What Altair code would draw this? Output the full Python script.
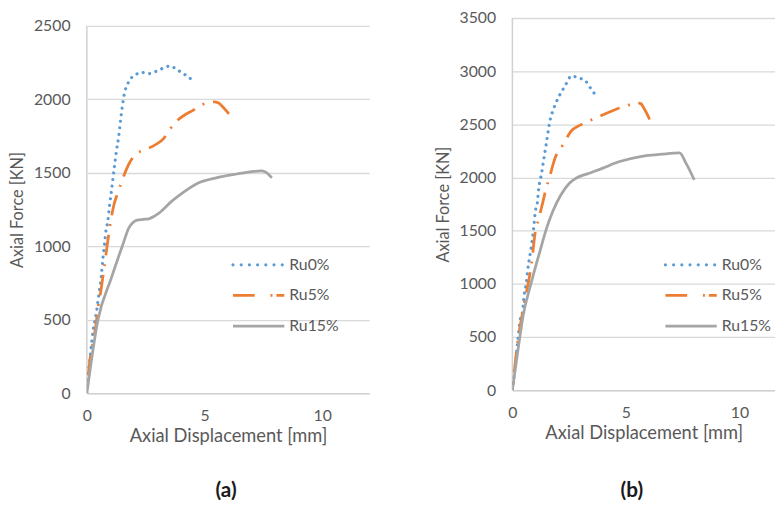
import altair as alt
import pandas as pd

series = ["Ru0%", "Ru5%", "Ru15%"]
colors = ["#5B9BD5", "#ED7D31", "#A5A5A5"]

# Panel (a)
a_ru0_x = [0, 0.05, 0.15, 0.26, 0.4, 0.5, 0.61, 0.68, 0.75, 0.82, 0.89, 0.96, 1.05, 1.17, 1.26, 1.35, 1.43, 1.51, 1.61, 1.72, 1.83, 2.01, 2.31, 2.63, 2.95, 3.25, 3.54, 3.83, 4.13, 4.4]
a_ru0_y = [0, 107, 264, 421, 544, 660, 791, 914, 1015, 1116, 1171, 1272, 1384, 1541, 1653, 1743, 1855, 1956, 2050, 2100, 2135, 2160, 2184, 2175, 2191, 2213, 2227, 2202, 2173, 2141]
a_ru5_x = [0, 0.125, 0.25, 0.4, 0.47, 0.61, 0.68, 0.75, 0.86, 0.93, 0.99, 1.17, 1.32, 1.47, 1.82, 2.07, 2.49, 2.9, 3.25, 3.51, 3.81, 4.54, 4.94, 5.4, 5.6, 5.8, 6.07]
a_ru5_y = [0, 220, 340, 480, 578, 712, 791, 869, 1003, 1082, 1149, 1295, 1366, 1436, 1570, 1626, 1658, 1690, 1731, 1792, 1850, 1929, 1967, 1983, 1975, 1945, 1895]
a_ru15_x = [0, 0.47, 1.03, 1.51, 1.79, 1.95, 2.14, 2.4, 2.63, 3.04, 3.6, 4.01, 4.71, 5.54, 6.38, 7.0, 7.4, 7.6, 7.86]
a_ru15_y = [0, 499, 780, 1003, 1127, 1160, 1178, 1183, 1187, 1223, 1306, 1357, 1429, 1467, 1492, 1508, 1514, 1505, 1466]

# Panel (b)
b_ru0_x = [0, 0.12, 0.22, 0.33, 0.45, 0.51, 0.62, 0.7, 0.77, 0.86, 0.94, 1.01, 1.1, 1.16, 1.23, 1.29, 1.35, 1.4, 1.51, 1.61, 1.68, 1.78, 1.9, 2.04, 2.22, 2.39, 2.59, 2.91, 3.23, 3.41, 3.62]
b_ru0_y = [0, 213, 430, 647, 740, 879, 1018, 1173, 1265, 1390, 1529, 1683, 1761, 1900, 1978, 2045, 2126, 2194, 2341, 2481, 2558, 2626, 2694, 2759, 2827, 2889, 2955, 2937, 2906, 2850, 2788]
b_ru5_x = [0, 0.22, 0.51, 0.84, 1.01, 1.13, 1.35, 1.46, 1.61, 1.93, 2.1, 2.33, 2.6, 2.94, 3.41, 3.81, 4.68, 5.14, 5.45, 5.65, 5.85, 6.09]
b_ru5_y = [0, 430, 801, 1188, 1488, 1590, 1776, 1878, 1984, 2210, 2262, 2349, 2440, 2488, 2535, 2572, 2652, 2683, 2705, 2695, 2630, 2525]
b_ru15_x = [0, 0.26, 0.48, 0.84, 1.2, 1.49, 1.78, 2.14, 2.51, 2.8, 3.38, 3.96, 4.68, 5.7, 6.57, 7.36, 7.65, 8.01]
b_ru15_y = [0, 400, 709, 1018, 1297, 1513, 1683, 1838, 1947, 1993, 2040, 2086, 2148, 2200, 2219, 2231, 2133, 1978]

x_ticks = [0, 5, 10]
FONT = "Lato"
TXT = "#595959"
AXIS_COLOR = "#D0D0D0"

line_styles = [
    dict(strokeWidth=3.2, strokeDash=[0.01, 6.6], strokeCap="round"),
    dict(strokeWidth=2.8, strokeDash=[21, 9, 2, 9], strokeDashOffset=23, strokeCap="butt"),
    dict(strokeWidth=2.8, strokeCap="butt"),
]
legend_styles = [
    dict(strokeWidth=3.2, strokeDash=[0.01, 8.3], strokeCap="round"),
    dict(strokeWidth=2.8, strokeDash=[22, 16, 2, 4], strokeCap="butt"),
    dict(strokeWidth=2.8, strokeCap="butt"),
]


def panel(data, ymax, ydom, width, height, xmax, leg_x, leg_y, lab_x, lab_y, label, title_y):
    y_ticks = list(range(0, ymax + 1, 500))
    xs = alt.X("x:Q", scale=alt.Scale(domain=[0, xmax], nice=False),
               axis=alt.Axis(values=x_ticks, grid=False, ticks=False, domainColor=AXIS_COLOR,
                             domainWidth=1.5, labelPadding=15, title="Axial Displacement [mm]",
                             titlePadding=3, labelFlush=False, format="d",
                             labelFont=FONT, titleFont=FONT, labelFontSize=16, titleFontSize=18.5,
                             labelColor=TXT, titleColor=TXT, titleFontWeight="normal"))
    ys = alt.Y("y:Q", scale=alt.Scale(domain=[0, ydom], nice=False),
               axis=alt.Axis(values=y_ticks, grid=True, gridColor="#D9D9D9", gridWidth=1.3,
                             ticks=False, domain=False, format="d",
                             labelPadding=17, title="Axial Force [KN]", titlePadding=8,
                             titleY=title_y,
                             labelFont=FONT, titleFont=FONT, labelFontSize=16, titleFontSize=16.5,
                             labelColor=TXT, titleColor=TXT, titleFontWeight="normal"))
    layers = []
    # y-axis line, spanning 0 .. top gridline
    adf = pd.DataFrame({"x": [0], "y": [0], "y2": [ymax]})
    layers.append(
        alt.Chart(adf).mark_rule(color=AXIS_COLOR, strokeWidth=1.5)
        .encode(x=xs, y=ys, y2="y2:Q")
    )
    for i, (name, (xv, yv)) in enumerate(zip(series, data)):
        df = pd.DataFrame({"x": xv, "y": yv, "i": list(range(len(xv)))})
        layers.append(
            alt.Chart(df).mark_line(color=colors[i], interpolate="monotone", clip=True, **line_styles[i])
            .encode(x=xs, y=ys, order="i:Q")
        )
    for i, name in enumerate(series):
        ldf = pd.DataFrame({"s": [name]})
        layers.append(
            alt.Chart(ldf).mark_rule(color=colors[i], **legend_styles[i])
            .encode(x=alt.value(leg_x), x2=alt.value(leg_x + 52), y=alt.value(leg_y + 31 * i))
        )
        layers.append(
            alt.Chart(ldf).mark_text(align="left", baseline="middle", font=FONT, fontSize=16, color=TXT)
            .encode(x=alt.value(leg_x + 57), y=alt.value(leg_y + 31 * i), text="s:N")
        )
    ldf = pd.DataFrame({"s": [label]})
    layers.append(
        alt.Chart(ldf).mark_text(align="center", baseline="middle", font=FONT, fontSize=21,
                                 fontWeight="bold", color="#1a1a1a")
        .encode(x=alt.value(lab_x), y=alt.value(lab_y), text="s:N")
    )
    return alt.layer(*layers).properties(width=width, height=height)


chart_a = panel([(a_ru0_x, a_ru0_y), (a_ru5_x, a_ru5_y), (a_ru15_x, a_ru15_y)],
                2500, 2500 * 380 / 372, 286, 380, 12, 148, 250, 141, 479, "(a)", 194)
chart_b = panel([(b_ru0_x, b_ru0_y), (b_ru5_x, b_ru5_y), (b_ru15_x, b_ru15_y)],
                3500, 3500, 266, 377, 266 / 23, 155, 250, 121, 479, "(b)", 188.5)

chart = alt.hconcat(chart_a, chart_b, spacing=66).properties(
    padding={"left": 9, "top": 7, "right": 0, "bottom": 0},
    background="white",
).configure_view(stroke=None)

chart.save("out.html", embed_options={"renderer": "svg", "actions": False})
